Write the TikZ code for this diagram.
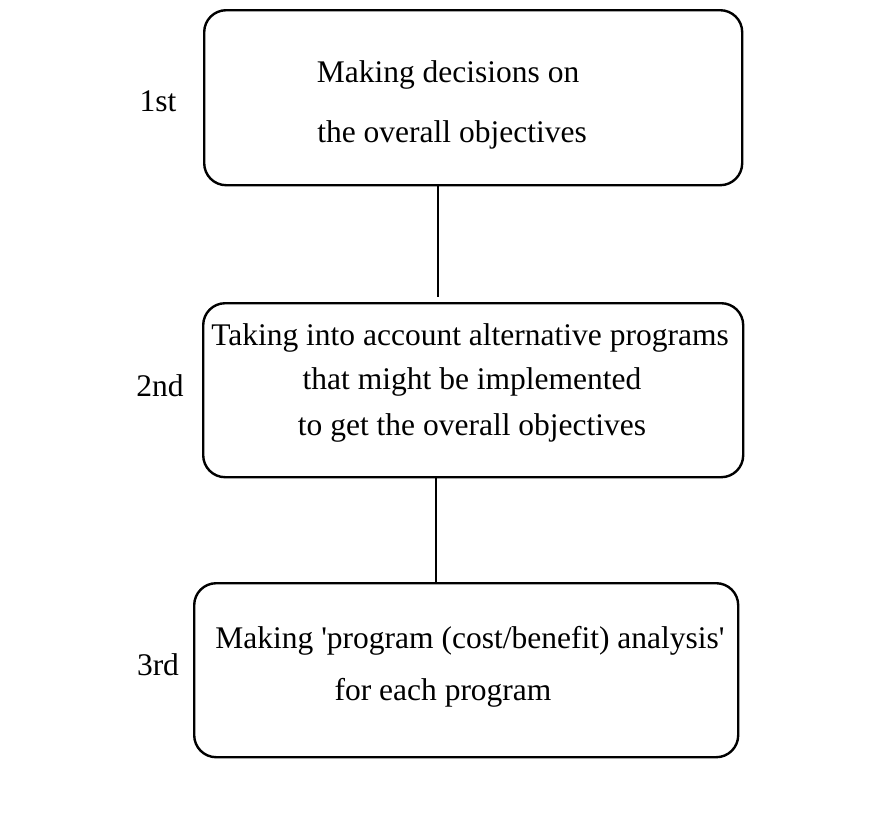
\documentclass[tikz,border=0pt]{standalone}
\usepackage{fontspec}
\setmainfont{Liberation Serif}
\setmonofont{Liberation Serif}
\newcommand{\sq}{{\ttfamily'}}
\begin{document}
\begin{tikzpicture}[x=1pt,y=-1pt,
  stagebox/.style={draw, line width=2.4pt, rounded corners=22pt, anchor=north west, inner sep=0pt},
  txt/.style={font=\fontsize{31.5}{38}\selectfont, inner sep=0pt, anchor=base},
  link/.style={line width=2pt}]
\useasboundingbox (0,0) rectangle (896,812);
% boxes
\node[stagebox, minimum width=538pt, minimum height=175pt] (b1) at (203,9) {};
\node[stagebox, minimum width=540pt, minimum height=174pt] (b2) at (202,302) {};
\node[stagebox, minimum width=544pt, minimum height=174pt] (b3) at (193,582) {};
% texts
\node[txt] (t11) at (448,82) {Making decisions on};
\node[txt] (t12) at (452,142) {the overall objectives};
\node[txt] (t21) at (470,345) {Taking into account alternative programs};
\node[txt] (t22) at (472,389) {that might be implemented};
\node[txt] (t23) at (472,435) {to get the overall objectives};
\node[txt] (t31) at (470,648) {Making \sq program (cost/benefit) analysis\sq};
\node[txt] (t32) at (443,700) {for each program};
% stage labels
\node[txt] (l1) at (158,111) {1st};
\node[txt] (l2) at (160,396) {2nd};
\node[txt] (l3) at (158,675) {3rd};
% connectors
\coordinate (e1) at (438,297);
\coordinate (c2) at (436,0);
\draw[link] (b1.south -| e1) -- (e1);
\draw[link] (b2.south -| c2) -- (b3.north -| c2);
\end{tikzpicture}
\end{document}
